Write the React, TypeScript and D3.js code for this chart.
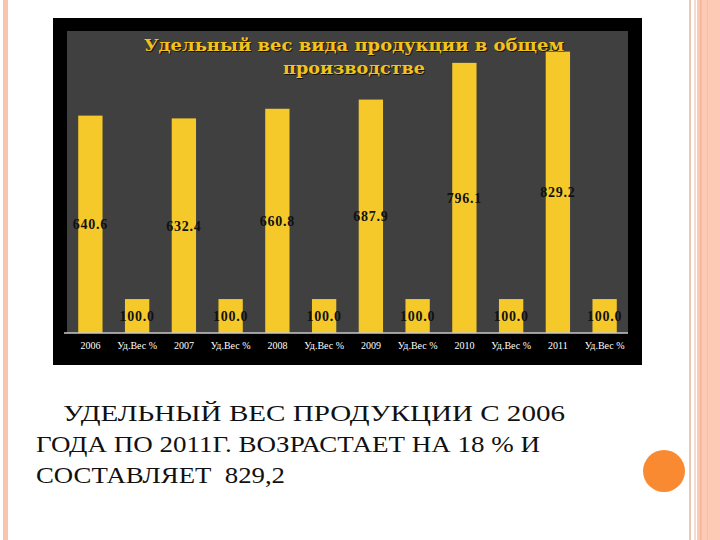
import React, { useRef, useEffect } from "react";
import * as d3 from "d3";

// chart data
const years = ["2006", "2007", "2008", "2009", "2010", "2011"];
const production = [640.6, 632.4, 660.8, 687.9, 796.1, 829.2];
const shareLabel = "Уд.Вес %";
const shares = [100.0, 100.0, 100.0, 100.0, 100.0, 100.0];
const titleLines = ["Удельный вес вида продукции в общем", "производстве"];
const noteLines = [
  "УДЕЛЬНЫЙ ВЕС ПРОДУКЦИИ С 2006",
  "ГОДА ПО 2011Г. ВОЗРАСТАЕТ НА 18 % И",
  "СОСТАВЛЯЕТ  829,2",
];

export default function App() {
  const ref = useRef<SVGSVGElement | null>(null);

  useEffect(() => {
    const width = 720;
    const height = 540;
    const plot = { left: 67, right: 628, top: 31, bottom: 333 };
    const serif = "'Liberation Serif', 'DejaVu Serif', serif";
    const wideSerif = "'DejaVu Serif', 'Liberation Serif', serif";

    d3.select(ref.current).selectAll("*").remove();

    const svg = d3
      .select(ref.current)
      .attr("width", width)
      .attr("height", height)
      .style("background-color", "#fff");

    // slide decorations
    svg.append("rect").attr("x", 3).attr("y", 0).attr("width", 5).attr("height", height).attr("fill", "#fcc4ac");
    svg.append("rect").attr("x", 689).attr("y", 0).attr("width", 2).attr("height", height).attr("fill", "#ecc8b4");
    svg.append("rect").attr("x", 694).attr("y", 0).attr("width", 2).attr("height", height).attr("fill", "#f6dccc");
    svg.append("rect").attr("x", 697).attr("y", 0).attr("width", 23).attr("height", height).attr("fill", "#fdcab6");
    svg.append("rect").attr("x", 700).attr("y", 0).attr("width", 1.5).attr("height", height).attr("fill", "#f4b49a");
    svg.append("rect").attr("x", 707).attr("y", 0).attr("width", 1).attr("height", height).attr("fill", "#f8bea6");
    svg.append("circle").attr("cx", 664).attr("cy", 471).attr("r", 21).attr("fill", "#f98a32");

    // chart frame
    svg.append("rect").attr("x", 53).attr("y", 18).attr("width", 589).attr("height", 347).attr("fill", "#000");
    svg
      .append("rect")
      .attr("x", plot.left)
      .attr("y", plot.top)
      .attr("width", plot.right - plot.left)
      .attr("height", plot.bottom - plot.top)
      .attr("fill", "#404040");

    const rows: { label: string; value: number }[] = [];
    years.forEach((yr, i) => {
      rows.push({ label: yr, value: production[i] });
      rows.push({ label: shareLabel + i, value: shares[i] });
    });

    const x = d3
      .scaleBand()
      .domain(rows.map((d) => d.label))
      .range([plot.left, plot.right])
      .paddingInner(0.48)
      .paddingOuter(0.24);

    const y = d3.scaleLinear().domain([0, 890]).range([plot.bottom, plot.top]);

    // title
    const titleLen = [420, 142];
    titleLines.forEach((t, i) => {
      const ty = 51 + i * 23;
      [
        { dx: 1, fill: "#1a1408" },
        { dx: 0, fill: "#f2c31c" },
      ].forEach((s) => {
        svg
          .append("text")
          .attr("x", 354 - titleLen[i] / 2 + s.dx)
          .attr("y", ty + s.dx)
          .attr("font-family", wideSerif)
          .attr("font-weight", "bold")
          .attr("font-size", 17)
          .attr("textLength", titleLen[i])
          .attr("lengthAdjust", "spacingAndGlyphs")
          .attr("fill", s.fill)
          .text(t);
      });
    });

    // bars
    svg
      .append("g")
      .selectAll("rect")
      .data(rows)
      .join("rect")
      .attr("x", (d) => x(d.label)!)
      .attr("y", (d) => y(d.value))
      .attr("width", x.bandwidth())
      .attr("height", (d) => plot.bottom - y(d.value))
      .attr("fill", "#f5c92a");

    // value labels, centred in bars
    svg
      .append("g")
      .selectAll("text")
      .data(rows)
      .join("text")
      .attr("x", (d) => x(d.label)! + x.bandwidth() / 2)
      .attr("y", (d) => y(d.value / 2))
      .attr("dy", "0.35em")
      .attr("text-anchor", "middle")
      .attr("font-family", serif)
      .attr("font-weight", "bold")
      .attr("font-size", 14)
      .attr("letter-spacing", 0.8)
      .attr("fill", "#111")
      .text((d) => d.value.toFixed(1));

    // x axis
    const xAxis = d3
      .axisBottom(x)
      .tickSize(0)
      .tickPadding(9)
      .tickFormat((d) => (d.startsWith(shareLabel) ? shareLabel : d));

    const gx = svg
      .append("g")
      .attr("transform", `translate(0,${plot.bottom})`)
      .call(xAxis);
    gx.select(".domain").attr("stroke", "#c8c8c8").attr("stroke-width", 1.5).attr("d", `M64,0H${plot.right}`);
    gx.selectAll("text")
      .attr("fill", "#fff")
      .attr("font-family", serif)
      .attr("font-size", 10);

    // note text under the chart
    const noteX = [63, 36, 36];
    const noteLen = [502, 504, 249];
    noteLines.forEach((t, i) => {
      svg
        .append("text")
        .attr("x", noteX[i])
        .attr("y", 421 + i * 31)
        .attr("font-family", serif)
        .attr("font-size", 24)
        .attr("fill", "#111")
        .attr("textLength", noteLen[i])
        .attr("lengthAdjust", "spacingAndGlyphs")
        .style("white-space", "pre")
        .text(t);
    });
  }, []);

  return <svg ref={ref} style={{ position: "absolute", left: 0, top: 0 }}></svg>;
}
